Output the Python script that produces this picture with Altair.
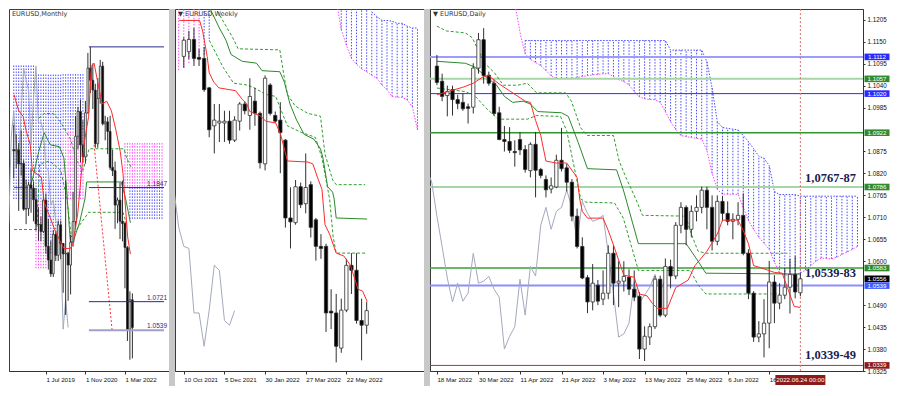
import altair as alt
import pandas as pd

FONT = "Liberation Sans"
SERIF = "Liberation Serif"
W_M, W_W, W_D, H, GAP = 160, 249, 433, 362, 6

# ======================= DATA =======================
# ---- Monthly (index 0 = Mar 2018; bars idx 3..51 = Jun 2018 .. Jun 2022)
m_start = 3
m_open = [1.1693, 1.1684, 1.1691, 1.1601, 1.1604, 1.1312, 1.1316,
          1.1467, 1.1446, 1.1372, 1.1217, 1.1214, 1.1169, 1.1370, 1.1075, 1.0987, 1.0899, 1.1151, 1.1017,
          1.1212, 1.1093, 1.1026, 1.1031, 1.0955, 1.1101, 1.1233, 1.1778, 1.1936, 1.1722, 1.1646, 1.1928,
          1.2214, 1.2136, 1.2073, 1.1730, 1.2020, 1.2226, 1.1858, 1.1870, 1.1809, 1.1579, 1.1558, 1.1338,
          1.1370, 1.1235, 1.1220, 1.1067, 1.0545, 1.0733]
m_high = [1.1852, 1.1791, 1.1734, 1.1815, 1.1625, 1.1500, 1.1487,
          1.1570, 1.1489, 1.1448, 1.1324, 1.1265, 1.1412, 1.1412, 1.1250, 1.1109, 1.1179, 1.1175, 1.1239,
          1.1239, 1.1096, 1.1495, 1.1040, 1.1147, 1.1422, 1.1908, 1.1966, 1.2011, 1.1880, 1.2004, 1.2310,
          1.2349, 1.2243, 1.2113, 1.2150, 1.2266, 1.2254, 1.1909, 1.1900, 1.1909, 1.1692, 1.1616, 1.1386,
          1.1482, 1.1495, 1.1233, 1.1076, 1.0787, 1.0774]
m_low = [1.1508, 1.1574, 1.1301, 1.1526, 1.1302, 1.1216, 1.1269,
         1.1289, 1.1234, 1.1176, 1.1111, 1.1107, 1.1160, 1.1027, 1.0926, 1.0879, 1.0879, 1.0981, 1.0981,
         1.0992, 1.0778, 1.0636, 1.0727, 1.0767, 1.1072, 1.1185, 1.1695, 1.1612, 1.1612, 1.1603, 1.1923,
         1.2054, 1.1952, 1.1704, 1.1704, 1.1986, 1.1847, 1.1752, 1.1664, 1.1563, 1.1524, 1.1186, 1.1222,
         1.1121, 1.1106, 1.0806, 1.0470, 1.0350, 1.0359]
m_close = [1.1684, 1.1691, 1.1601, 1.1604, 1.1312, 1.1316, 1.1467,
           1.1446, 1.1372, 1.1217, 1.1214, 1.1169, 1.1370, 1.1075, 1.0987, 1.0899, 1.1151, 1.1017, 1.1212,
           1.1093, 1.1026, 1.1031, 1.0955, 1.1101, 1.1233, 1.1778, 1.1936, 1.1722, 1.1646, 1.1928, 1.2214,
           1.2136, 1.2073, 1.1730, 1.2020, 1.2226, 1.1858, 1.1870, 1.1809, 1.1579, 1.1558, 1.1338, 1.1370,
           1.1235, 1.1220, 1.1067, 1.0545, 1.0733, 1.0556]
m_tick_idx = [16, 32, 48]
m_tick_lab = ["1 Jul 2019", "1 Nov 2020", "1 Mar 2022"]
m_tenkan_idx = [3.1, 5.0, 6.8, 7.9, 9.7, 10.5, 14.2, 15.3, 17.8, 19.7, 21.5, 23.3, 25.9, 27.0, 28.9,
                31.4, 33.3, 34.4, 35.5, 37.0, 38.8, 40.6, 42.5, 44.3, 46.1, 47.2, 49.1, 50.2]
m_tenkan = [1.2044, 1.1941, 1.1905, 1.1820, 1.1723, 1.1559, 1.1516, 1.1358, 1.1255, 1.1176, 1.1116,
            1.1061, 1.1061, 1.1091, 1.1286, 1.1723, 1.1905, 1.2226, 1.2245, 1.2123, 1.1984, 1.2002,
            1.1941, 1.1820, 1.1680, 1.1541, 1.1134, 1.1025]
m_kijun_idx = [3.1, 9.4, 10.5, 13.1, 15.3, 17.8, 21.5, 23.3, 24.4, 25.9, 27.0, 29.6, 31.8, 32.5, 46.5, 48.3, 50.2]
m_kijun = [1.1450, 1.1450, 1.1498, 1.1680, 1.1801, 1.1723, 1.1711, 1.1638, 1.1437, 1.1103, 1.1103,
           1.1225, 1.1377, 1.1486, 1.1486, 1.1377, 1.1225]
m_dash1_idx = [13.1, 15.3, 19.0, 21.5, 23.3, 26.0, 28.5, 31.0, 33.5, 47.6, 48.7, 50.6]
m_dash1 = [1.1893, 1.1923, 1.1923, 1.1880, 1.1832, 1.1759, 1.1620, 1.1560, 1.1698, 1.1698, 1.1638, 1.1577]
m_dash2_idx = [3.1, 12.3, 13.5, 17.5, 22.0, 24.5, 26.3, 33.3, 47.2, 49.0]
m_dash2 = [1.1182, 1.1182, 1.1600, 1.1620, 1.1560, 1.1380, 1.1134, 1.1292, 1.1292, 1.1200]
m_trend_idx = [35.5, 42.8]
m_trend = [1.1723, 1.0539]
# cloud blocks: start idx, end idx, low, high, colour
m_cl_start = [3, 12, 17, 23, 12, 23, 48, 50]
m_cl_end = [11, 16, 22, 31, 16, 31, 63, 63]
m_cl_lo = [1.1377, 1.1377, 1.1031, 1.1820, 1.0934, 1.1377, 1.1456, 1.1250]
m_cl_hi = [1.2239, 1.2178, 1.2178, 1.2178, 1.1377, 1.1820, 1.1741, 1.1456]
m_cl_col = ["#4a4aff", "#4a4aff", "#4a4aff", "#4a4aff", "#ff40ff", "#ff40ff", "#ff40ff", "#4a4aff"]
m_lvl = [1.2349, 1.1450, 1.0721, 1.0539]
m_lvl_col = ["#2b2b8c", "#2b2b8c", "#2b2b8c", "#a0a0cc"]
m_lvl_w = [1, 1, 1, 2]
m_lvl_from = 33.4
m_lab_txt = ["1.1847", "1.0721", "1.0539"]
m_lab_p = [1.1450, 1.0721, 1.0539]

# ---- Weekly (index 0 = week of 10 Oct 2021)
w_open = [1.1533, 1.1551, 1.1598, 1.1529, 1.1525, 1.1412, 1.1266, 1.1277, 1.1277, 1.1284, 1.1211,
          1.1284, 1.1350, 1.1306, 1.1361, 1.1314, 1.1120, 1.1423, 1.1306, 1.1288, 1.1211, 1.0912,
          1.0894, 1.1032, 1.0967, 1.1040, 1.0905, 1.0803, 1.0803, 1.0554, 1.0547, 1.0412, 1.0558,
          1.0730, 1.0711, 1.0518, 1.0500]
w_high = [1.1606, 1.1631, 1.1642, 1.1562, 1.1569, 1.1416, 1.1350, 1.1350, 1.1324, 1.1324, 1.1303,
          1.1357, 1.1360, 1.1449, 1.1412, 1.1321, 1.1460, 1.1430, 1.1321, 1.1357, 1.1215, 1.1030,
          1.1058, 1.1048, 1.1160, 1.1053, 1.0912, 1.0850, 1.0813, 1.0638, 1.0620, 1.0602, 1.0755,
          1.0777, 1.0777, 1.0602, 1.0590]
w_low = [1.1489, 1.1522, 1.1496, 1.1496, 1.1397, 1.1222, 1.1160, 1.1204, 1.1204, 1.1197, 1.1204,
         1.1248, 1.1310, 1.1251, 1.1266, 1.1102, 1.1095, 1.1306, 1.1277, 1.1084, 1.0875, 1.0795,
         1.0886, 1.0950, 1.0930, 1.0837, 1.0748, 1.0755, 1.0474, 1.0485, 1.0357, 1.0394, 1.0550,
         1.0620, 1.0506, 1.0365, 1.0467]
w_close = [1.1595, 1.1598, 1.1525, 1.1522, 1.1405, 1.1251, 1.1288, 1.1284, 1.1284, 1.1211, 1.1288,
           1.1350, 1.1324, 1.1379, 1.1314, 1.1124, 1.1449, 1.1314, 1.1284, 1.1240, 1.0912, 1.0897,
           1.1032, 1.0963, 1.1029, 1.0876, 1.0803, 1.0795, 1.0547, 1.0547, 1.0419, 1.0558, 1.0730,
           1.0711, 1.0518, 1.0500, 1.0556]
w_tick_idx = [0, 8, 16, 24, 32]
w_tick_lab = ["10 Oct 2021", "5 Dec 2021", "30 Jan 2022", "27 Mar 2022", "22 May 2022"]
w_tenkan_idx = [-0.9, 3.1, 3.7, 4.6, 5.0, 5.9, 6.9, 10.2, 11.5, 12.4, 13.0, 15.2, 16.1, 18.1, 19.1,
                20.4, 24.4, 25.4, 26.3, 27.2, 27.8, 28.7, 30.0, 31.5, 32.8, 34.3, 35.2, 36.1]
w_tenkan = [1.1671, 1.1671, 1.1631, 1.1533, 1.1470, 1.1434, 1.1412, 1.1401, 1.1368, 1.1350, 1.1321,
            1.1303, 1.1284, 1.1277, 1.1230, 1.1131, 1.1127, 1.1120, 1.1069, 1.1022, 1.0886, 1.0850,
            1.0777, 1.0766, 1.0730, 1.0638, 1.0631, 1.0591]
w_kijun_idx = [4.0, 5.2, 7.0, 8.3, 9.3, 11.5, 14.3, 15.4, 18.9, 19.8, 20.9, 22.2, 23.7, 25.6, 26.9,
               27.4, 28.3, 29.3, 29.6, 30.0, 36.1]
w_kijun = [1.1760, 1.1715, 1.1642, 1.1595, 1.1540, 1.1514, 1.1507, 1.1478, 1.1474, 1.1434, 1.1350,
           1.1288, 1.1233, 1.1215, 1.1178, 1.1142, 1.1033, 1.1011, 1.0985, 1.0912, 1.0908]
w_dash1_idx = [5.6, 9.6, 10.7, 18.9, 19.8, 20.4, 21.9, 24.4, 26.9, 27.8, 29.3, 30.0, 35.7]
w_dash1 = [1.1740, 1.1606, 1.1562, 1.1558, 1.1449, 1.1387, 1.1343, 1.1314, 1.1303, 1.1157, 1.1058,
           1.1040, 1.1040]
w_dash2_idx = [5.0, 7.8, 9.8, 12.4, 13.9, 16.1, 18.1, 19.4, 20.4, 23.1, 25.9, 27.2, 28.7, 29.4, 30.0, 35.7]
w_dash2 = [1.1595, 1.1489, 1.1430, 1.1423, 1.1412, 1.1387, 1.1379, 1.1314, 1.1266, 1.1241, 1.1222,
           1.1142, 1.0985, 1.0839, 1.0777, 1.0777]
w_cl_idx = [-1, 0, 1, 2, 3, 4, 5,
            30, 31, 32, 33, 34, 35, 36, 37, 38, 39, 40, 41, 42, 43, 44, 45, 46]
w_cl_lo = [1.1480, 1.1489, 1.1507, 1.1514, 1.1525, 1.1540, 1.1600,
           1.1750, 1.1635, 1.1576, 1.1525, 1.1503, 1.1485, 1.1474, 1.1460, 1.1449, 1.1423, 1.1405,
           1.1379, 1.1376, 1.1376, 1.1365, 1.1339, 1.1251]
w_cl_hi = [1.1800, 1.1800, 1.1800, 1.1800, 1.1800, 1.1800, 1.1800,
           1.1800, 1.1800, 1.1800, 1.1800, 1.1800, 1.1800, 1.1800, 1.1704, 1.1686, 1.1671, 1.1671,
           1.1668, 1.1660, 1.1660, 1.1649, 1.1642, 1.1642]
w_cl_col = ["#ff40ff", "#ff40ff", "#ff40ff", "#ff40ff", "#ff40ff", "#4a4aff", "#4a4aff",
            "#4a4aff", "#4a4aff", "#4a4aff", "#4a4aff", "#4a4aff", "#4a4aff", "#4a4aff", "#4a4aff",
            "#4a4aff", "#4a4aff", "#4a4aff", "#4a4aff", "#4a4aff", "#4a4aff", "#4a4aff", "#4a4aff", "#4a4aff"]

# ---- Daily (index 0 = 18 Mar 2022, 70 = 24 Jun 2022)
d_open = [1.1089, 1.1051, 1.1015, 1.1030, 1.1005, 1.0998, 1.0987, 1.0986, 1.1084, 1.1155,
          1.1066, 1.1046, 1.0972, 1.0905, 1.0900, 1.0875, 1.0905, 1.0880, 1.0827, 1.0893,
          1.0830, 1.0805, 1.0781, 1.0786, 1.0853, 1.0834, 1.0798, 1.0713, 1.0637, 1.0559,
          1.0498, 1.0540, 1.0505, 1.0520, 1.0620, 1.0545, 1.0550, 1.0560, 1.0530, 1.0512,
          1.0380, 1.0410, 1.0436, 1.0555, 1.0465, 1.0587, 1.0563, 1.0690, 1.0735, 1.0680,
          1.0725, 1.0735, 1.0778, 1.0735, 1.0650, 1.0750, 1.0720, 1.0700, 1.0705, 1.0715,
          1.0620, 1.0520, 1.0410, 1.0418, 1.0445, 1.0548, 1.0495, 1.0515, 1.0535, 1.0567, 1.0521]
d_high = [1.1117, 1.1070, 1.1040, 1.1040, 1.1017, 1.1021, 1.0995, 1.1096, 1.1172, 1.1184,
          1.1075, 1.1055, 1.0987, 1.0939, 1.0936, 1.0903, 1.0924, 1.0891, 1.0898, 1.0924,
          1.0834, 1.0815, 1.0810, 1.0867, 1.0934, 1.0844, 1.0806, 1.0732, 1.0660, 1.0565,
          1.0593, 1.0553, 1.0577, 1.0640, 1.0640, 1.0600, 1.0600, 1.0580, 1.0577, 1.0523,
          1.0437, 1.0444, 1.0563, 1.0564, 1.0607, 1.0604, 1.0698, 1.0748, 1.0740, 1.0740,
          1.0765, 1.0787, 1.0787, 1.0765, 1.0765, 1.0764, 1.0750, 1.0720, 1.0748, 1.0770,
          1.0630, 1.0525, 1.0450, 1.0505, 1.0601, 1.0565, 1.0545, 1.0583, 1.0606, 1.0613, 1.0570]
d_low = [1.1041, 1.1001, 1.0963, 1.0965, 1.0981, 1.0977, 1.0945, 1.0970, 1.1070, 1.1045,
         1.1040, 1.0965, 1.0903, 1.0875, 1.0871, 1.0837, 1.0866, 1.0822, 1.0810, 1.0760,
         1.0808, 1.0760, 1.0770, 1.0783, 1.0825, 1.0775, 1.0700, 1.0632, 1.0555, 1.0470,
         1.0477, 1.0490, 1.0490, 1.0505, 1.0490, 1.0485, 1.0524, 1.0515, 1.0500, 1.0355,
         1.0350, 1.0390, 1.0430, 1.0460, 1.0460, 1.0532, 1.0555, 1.0670, 1.0640, 1.0660,
         1.0700, 1.0720, 1.0680, 1.0627, 1.0640, 1.0700, 1.0690, 1.0655, 1.0690, 1.0615,
         1.0505, 1.0398, 1.0397, 1.0359, 1.0382, 1.0445, 1.0480, 1.0505, 1.0469, 1.0507, 1.0512]
d_close = [1.1048, 1.1013, 1.1025, 1.1005, 1.0995, 1.0982, 1.0983, 1.1084, 1.1155, 1.1065,
           1.1046, 1.0970, 1.0905, 1.0900, 1.0878, 1.0872, 1.0879, 1.0830, 1.0893, 1.0828,
           1.0815, 1.0779, 1.0789, 1.0853, 1.0832, 1.0798, 1.0713, 1.0637, 1.0558, 1.0498,
           1.0545, 1.0500, 1.0520, 1.0620, 1.0545, 1.0550, 1.0562, 1.0530, 1.0510, 1.0380,
           1.0412, 1.0436, 1.0555, 1.0465, 1.0587, 1.0563, 1.0690, 1.0735, 1.0680, 1.0725,
           1.0735, 1.0778, 1.0735, 1.0650, 1.0750, 1.0720, 1.0700, 1.0705, 1.0715, 1.0620,
           1.0520, 1.0410, 1.0418, 1.0445, 1.0548, 1.0495, 1.0515, 1.0535, 1.0567, 1.0523, 1.0556]
d_tick_idx = [0, 8, 16, 24, 32, 40, 48, 56, 64]
d_tick_lab = ["18 Mar 2022", "30 Mar 2022", "11 Apr 2022", "21 Apr 2022", "3 May 2022",
              "13 May 2022", "25 May 2022", "6 Jun 2022", "16 Jun 2022"]
d_price_ticks = [1.0325, 1.0380, 1.0435, 1.0490, 1.0600, 1.0655, 1.0710, 1.0765, 1.0820,
                 1.0875, 1.0985, 1.1040, 1.1095, 1.1150, 1.1205]
d_tenkan_idx = [0, 5, 7, 9, 10, 12, 14, 17, 18, 19, 20, 21, 23, 25, 27, 27.5, 28, 29, 32, 33, 34, 36,
                38, 39, 40.5, 41.5, 42.5, 44.4, 46, 48.4, 49.7, 52, 54, 55, 58, 59, 60, 61, 62.3, 65,
                66.5, 67.5, 68.8, 70]
d_tenkan = [1.1017, 1.1036, 1.1046, 1.1063, 1.1065, 1.1044, 1.1027, 1.1001, 1.0998, 1.0953, 1.0915,
            1.0851, 1.0846, 1.0846, 1.0810, 1.0756, 1.0725, 1.0708, 1.0708, 1.0677, 1.0641, 1.0565,
            1.0560, 1.0518, 1.0513, 1.0494, 1.0482, 1.0482, 1.0534, 1.0553, 1.0589, 1.0625, 1.0668,
            1.0703, 1.0703, 1.0677, 1.0644, 1.0589, 1.0584, 1.0572, 1.0570, 1.0534, 1.0487, 1.0484]
d_kijun_idx = [0, 5.5, 7.4, 9.2, 11.5, 13, 14.6, 16.6, 18, 19.4, 24, 25.3, 27.2, 29, 34.6, 35.9, 36.4,
               38.8, 48, 50, 51.8, 70]
d_kijun = [1.1101, 1.1096, 1.1086, 1.1065, 1.1041, 1.1013, 1.0998, 1.1001, 1.0994, 1.0975, 1.0972,
           1.0963, 1.0898, 1.0832, 1.0829, 1.0779, 1.0756, 1.0644, 1.0644, 1.0606, 1.0570, 1.0568]
d_dash1_idx = [0, 1.8, 5.5, 6.8, 8.3, 9.2, 11.1, 12.8, 15.5, 17.4, 19.2, 24.8, 25.9, 27.7, 29, 34,
               35.1, 36.4, 38.3, 39.6, 47.9, 49, 50.3, 51.8, 67.5]
d_dash1 = [1.1189, 1.1177, 1.1172, 1.1160, 1.1120, 1.1096, 1.1072, 1.1041, 1.1041, 1.1046, 1.1022,
           1.1022, 1.1001, 1.0934, 1.0915, 1.0915, 1.0851, 1.0810, 1.0756, 1.0715, 1.0713, 1.0668,
           1.0625, 1.0620, 1.0620]
d_dash2_idx = [0, 5.5, 7.4, 9.6, 11.8, 17.4, 19.2, 23.8, 25, 27.7, 28.7, 34.2, 35.9, 38.8, 48.8,
               50.3, 51.8, 66]
d_dash2 = [1.1034, 1.1025, 1.1013, 1.0982, 1.0956, 1.0956, 1.0965, 1.0963, 1.0927, 1.0756, 1.0748,
           1.0746, 1.0708, 1.0577, 1.0577, 1.0541, 1.0518, 1.0518]
d_cloud_idx = list(range(17, 82))
d_spanB = [1.1153, 1.1153, 1.1153, 1.1153, 1.1153, 1.1153, 1.1153, 1.1153, 1.1153, 1.1153,
           1.1153, 1.1153, 1.1153, 1.1153, 1.1153, 1.1153, 1.1153, 1.1153, 1.1153, 1.1153,
           1.1153, 1.1153, 1.1153, 1.1153, 1.1153, 1.1153, 1.1153, 1.1153,
           1.1129, 1.1129, 1.1129, 1.1129, 1.1129, 1.1129, 1.1129,
           1.1100, 1.1034, 1.0950, 1.0935, 1.0933, 1.0931, 1.0929, 1.0915, 1.0900, 1.0882,
           1.0863, 1.0858, 1.0840, 1.0775, 1.0767, 1.0767, 1.0767, 1.0767,
           1.0763, 1.0763, 1.0763, 1.0763, 1.0763, 1.0763, 1.0763, 1.0763, 1.0763, 1.0763, 1.0763, 1.0763]
d_spanA = [1.1120, 1.1106, 1.1098, 1.1090, 1.1078, 1.1064, 1.1058, 1.1058, 1.1058, 1.1058,
           1.1060, 1.1063, 1.1065, 1.1067, 1.1068, 1.1070, 1.1070, 1.1063, 1.1055, 1.1050,
           1.1042, 1.1025, 1.1012, 1.1007, 1.1005, 1.1005, 1.0998, 1.0975, 1.0950, 1.0930,
           1.0915, 1.0912, 1.0910, 1.0908, 1.0906, 1.0878, 1.0820, 1.0780, 1.0768, 1.0768,
           1.0768, 1.0768, 1.0735, 1.0702, 1.0680, 1.0660, 1.0645, 1.0630, 1.0598, 1.0570,
           1.0566, 1.0565, 1.0567, 1.0570, 1.0578, 1.0589, 1.0600, 1.0608, 1.0607, 1.0606,
           1.0610, 1.0617, 1.0623, 1.0630, 1.0637]
d_spanA_pre_idx = [15.2, 16.1]
d_spanA_pre = [1.1232, 1.1167]
d_lvl = [1.1112, 1.1057, 1.1020, 1.0922, 1.0786, 1.0583, 1.0539, 1.0339]
d_lvl_col = ["#9c9cff", "#a6d6a6", "#2b2bff", "#2e962e", "#a6d6a6", "#3a9e3a", "#8e8eff", "#a23a3a"]
d_lvl_w = [2, 2, 1, 1.3, 2, 1.5, 2, 1]
d_box_val = [1.1112, 1.1057, 1.1020, 1.0922, 1.0786, 1.0583, 1.0556, 1.0539, 1.0339]
d_box_txt = ["1.1112", "1.1057", "1.1020", "1.0922", "1.0786", "1.0583", "1.0556", "1.0539", "1.0339"]
d_box_col = ["#2a2aff", "#2e8b2e", "#2a2aff", "#2e8b2e", "#2e8b2e", "#2e8b2e", "#000000", "#3a5aff", "#8b1a1a"]
d_now_idx = 70
d_now_txt = "2022.06.24 00:00"
d_note_txt = ["1,0767-87", "1,0539-83", "1,0339-49"]
d_note_p = [1.0808, 1.0570, 1.0365]
d_note_idx = 70.9

title_m = "EURUSD,Monthly"
title_w = "\u25bc EURUSD,Weekly"
title_d = "\u25bc EURUSD,Daily"

# ======================= HELPERS =======================
def xaxis(vals, labs):
    expr = "{" + ",".join("'%s':'%s'" % (v, l) for v, l in zip(vals, labs)) + "}[datum.value]"
    return alt.Axis(values=vals, labelExpr=expr, title=None, grid=False, labelAlign="left",
                    labelBaseline="top", labelFlush=False, labelOverlap=False, tickSize=3,
                    tickColor="#333", domainColor="#333", labelPadding=2, labelFont=FONT,
                    labelFontSize=6.2, labelColor="#111", labelBound=False)


def encs(xs, ys, xax, yax):
    X = lambda f="idx": alt.X(f + ":Q", scale=xs, axis=xax)
    Y = lambda f="p": alt.Y(f + ":Q", scale=ys, axis=yax)
    return X, Y


def candles(o, h, l, c, start, X, Y, bw):
    df = pd.DataFrame({"idx": list(range(start, start + len(o))), "o": o, "h": h, "l": l, "c": c})
    df["dir"] = ["up" if cc >= oo else "down" for oo, cc in zip(df.o, df.c)]
    base = alt.Chart(df)
    wick = base.mark_rule(color="#303030", strokeWidth=1, clip=True).encode(
        x=X(), y=Y("l"), y2=alt.Y2("h"))
    body = base.mark_bar(size=bw, stroke="#303030", strokeWidth=0.8, clip=True).encode(
        x=X(), y=Y("o"), y2=alt.Y2("c"),
        color=alt.Color("dir:N", scale=alt.Scale(domain=["up", "down"], range=["#ffffff", "#000000"]),
                        legend=None))
    return [wick, body], df


def line(idx, vals, X, Y, color, width=1.0, dash=None):
    df = pd.DataFrame({"idx": idx, "p": vals})
    kw = dict(color=color, strokeWidth=width, clip=True)
    if dash:
        kw["strokeDash"] = dash
    return alt.Chart(df).mark_line(**kw).encode(x=X(), y=Y())


def chikou(df, X, Y):
    ch = pd.DataFrame({"idx": df["idx"] - 26, "p": df["c"]})
    return alt.Chart(ch).mark_line(color="#a3aabb", strokeWidth=1, clip=True).encode(x=X(), y=Y())


def cloud(idx, lo, hi, cols, X, Y):
    df = pd.DataFrame({"idx": idx, "lo": lo, "hi": hi, "col": cols})
    return alt.Chart(df).mark_rule(strokeDash=[1.5, 1.5], strokeWidth=1, clip=True).encode(
        x=X(), y=Y("lo"), y2=alt.Y2("hi"), color=alt.Color("col:N", scale=None))


def title(txt):
    return alt.Chart(pd.DataFrame({"t": [txt]})).mark_text(
        align="left", baseline="top", font="DejaVu Sans", fontSize=6.5, color="#333").encode(
        x=alt.value(3), y=alt.value(2), text="t:N")

# ======================= MONTHLY =======================
mX, mY = encs(alt.Scale(domain=[3.1, 63.8], nice=False, zero=False),
              alt.Scale(domain=[1.0278, 1.2591], nice=False, zero=False),
              xaxis(m_tick_idx, m_tick_lab), None)
m_layers = []
ci, clo, chi, ccol = [], [], [], []
for s, e, lo, hi, col in zip(m_cl_start, m_cl_end, m_cl_lo, m_cl_hi, m_cl_col):
    for i in range(s, e + 1):
        ci.append(i); clo.append(lo); chi.append(hi); ccol.append(col)
m_layers.append(cloud(ci, clo, chi, ccol, mX, mY))
m_c, m_df = candles(m_open, m_high, m_low, m_close, m_start, mX, mY, 1.8)
m_layers.append(chikou(m_df, mX, mY))
m_layers.append(line(m_dash1_idx, m_dash1, mX, mY, "#2f9e2f", 1, [3, 2]))
m_layers.append(line(m_dash2_idx, m_dash2, mX, mY, "#2f9e2f", 1, [3, 2]))
m_layers.append(line(m_kijun_idx, m_kijun, mX, mY, "#2a8a2a", 1))
m_layers.append(line(m_trend_idx, m_trend, mX, mY, "#ff3030", 1, [2, 2]))
m_layers += m_c
m_layers.append(line(m_tenkan_idx, m_tenkan, mX, mY, "#ff2a2a", 1))
lv = pd.DataFrame({"p": m_lvl, "col": m_lvl_col, "w": m_lvl_w, "idx": m_lvl_from, "x2": 63.8})
m_layers.append(alt.Chart(lv).mark_rule(clip=True).encode(
    x=mX(), x2=alt.X2("x2"), y=mY(), color=alt.Color("col:N", scale=None),
    strokeWidth=alt.StrokeWidth("w:Q", scale=None)))
ml = pd.DataFrame({"p": m_lab_p, "t": m_lab_txt})
m_layers.append(alt.Chart(ml).mark_text(align="right", baseline="bottom", dy=-1, font=FONT,
                                        fontSize=6.5, color="#2b2b8c").encode(
    x=alt.value(W_M - 2), y=mY(), text="t:N"))
m_layers.append(title(title_m))
monthly = alt.layer(*m_layers).properties(width=W_M, height=H)

# ======================= WEEKLY =======================
wX, wY = encs(alt.Scale(domain=[-0.75, 46.3], nice=False, zero=False),
              alt.Scale(domain=[1.0324, 1.1715], nice=False, zero=False),
              xaxis(w_tick_idx, w_tick_lab), None)
w_layers = [cloud(w_cl_idx, w_cl_lo, w_cl_hi, w_cl_col, wX, wY)]
w_layers.append(line(w_cl_idx[7:], w_cl_lo[7:], wX, wY, "#ff40ff", 1, [1.5, 1.5]))
w_layers.append(line(w_cl_idx[14:], w_cl_hi[14:], wX, wY, "#4a4aff", 1, [1.5, 1.5]))
w_c, w_df = candles(w_open, w_high, w_low, w_close, 0, wX, wY, 3.3)
w_layers.append(chikou(w_df, wX, wY))
w_layers.append(line(w_dash1_idx, w_dash1, wX, wY, "#2f9e2f", 1, [3, 2]))
w_layers.append(line(w_dash2_idx, w_dash2, wX, wY, "#2f9e2f", 1, [3, 2]))
w_layers.append(line(w_kijun_idx, w_kijun, wX, wY, "#2a8a2a", 1))
w_layers += w_c
w_layers.append(line(w_tenkan_idx, w_tenkan, wX, wY, "#ff2a2a", 1))
w_layers.append(title(title_w))
weekly = alt.layer(*w_layers).properties(width=W_W, height=H)

# ======================= DAILY =======================
d_yaxis = alt.Axis(orient="right", values=d_price_ticks, format=".4f", title=None, grid=False,
                   tickSize=2, tickColor="#333", domainColor="#333", labelPadding=2, labelFont=FONT,
                   labelFontSize=6.3, labelColor="#111", labelOverlap=False, labelFlush=False)
dX, dY = encs(alt.Scale(domain=[-0.37, 81.1], nice=False, zero=False),
              alt.Scale(domain=[1.0325, 1.1232], nice=False, zero=False),
              xaxis(d_tick_idx, d_tick_lab), d_yaxis)
d_layers = [cloud(d_cloud_idx, d_spanA, d_spanB, ["#4a4aff"] * len(d_cloud_idx), dX, dY)]
d_layers.append(line(d_spanA_pre_idx + d_cloud_idx, d_spanA_pre + d_spanA, dX, dY, "#ff40ff", 1, [1.5, 1.5]))
d_layers.append(line(d_cloud_idx, d_spanB, dX, dY, "#4a4aff", 1, [1.5, 1.5]))
dl = pd.DataFrame({"p": d_lvl, "col": d_lvl_col, "w": d_lvl_w})
d_layers.append(alt.Chart(dl).mark_rule(clip=True).encode(
    y=dY(), color=alt.Color("col:N", scale=None), strokeWidth=alt.StrokeWidth("w:Q", scale=None)))
d_layers.append(alt.Chart(pd.DataFrame({"idx": [d_now_idx]})).mark_rule(
    color="#e07070", strokeDash=[2, 2], strokeWidth=1).encode(x=dX()))
d_c, d_df = candles(d_open, d_high, d_low, d_close, 0, dX, dY, 3.3)
d_layers.append(chikou(d_df, dX, dY))
d_layers.append(line(d_dash1_idx, d_dash1, dX, dY, "#2f9e2f", 1, [3, 2]))
d_layers.append(line(d_dash2_idx, d_dash2, dX, dY, "#2f9e2f", 1, [3, 2]))
d_layers.append(line(d_kijun_idx, d_kijun, dX, dY, "#2a8a2a", 1))
d_layers += d_c
d_layers.append(line(d_tenkan_idx, d_tenkan, dX, dY, "#ff2a2a", 1))
nt = pd.DataFrame({"idx": d_note_idx, "p": d_note_p, "t": d_note_txt})
d_layers.append(alt.Chart(nt).mark_text(align="left", baseline="middle", font=SERIF, fontSize=12.5,
                                        fontWeight="bold", color="#1c1c4e").encode(
    x=dX(), y=dY(), text="t:N"))
bx = pd.DataFrame({"p": d_box_val, "t": d_box_txt, "col": d_box_col})
d_layers.append(alt.Chart(bx).mark_tick(orient="horizontal", size=25, thickness=6.6, opacity=1).encode(
    x=alt.value(W_D + 14), y=dY(), color=alt.Color("col:N", scale=None)))
d_layers.append(alt.Chart(bx).mark_text(font=FONT, fontSize=6.2, color="white", baseline="middle").encode(
    x=alt.value(W_D + 14), y=dY(), text="t:N"))
nw = pd.DataFrame({"idx": [d_now_idx], "t": [d_now_txt]})
d_layers.append(alt.Chart(nw).mark_tick(orient="horizontal", size=50, thickness=10, color="#8b1a1a",
                                        opacity=1).encode(x=dX(), y=alt.value(H + 9)))
d_layers.append(alt.Chart(nw).mark_text(font=FONT, fontSize=6.2, color="white", baseline="middle").encode(
    x=dX(), y=alt.value(H + 9), text="t:N"))
d_layers.append(title(title_d))
daily = alt.layer(*d_layers).properties(width=W_D, height=H)

gap = alt.Chart(pd.DataFrame({"a": [0]})).mark_rect(color="#c8c8c8").encode(
    x=alt.value(0), x2=alt.value(GAP), y=alt.value(0), y2=alt.value(H + 15)
).properties(width=GAP, height=H, view=alt.ViewBackground(stroke="transparent"))

chart = alt.hconcat(monthly, gap, weekly, gap, daily, spacing=0, bounds="flush").properties(
    padding=0, background="white"
).configure_view(stroke="#3c3c3c", strokeWidth=1)

chart.save("out.html", embed_options={"renderer": "svg", "actions": False})
